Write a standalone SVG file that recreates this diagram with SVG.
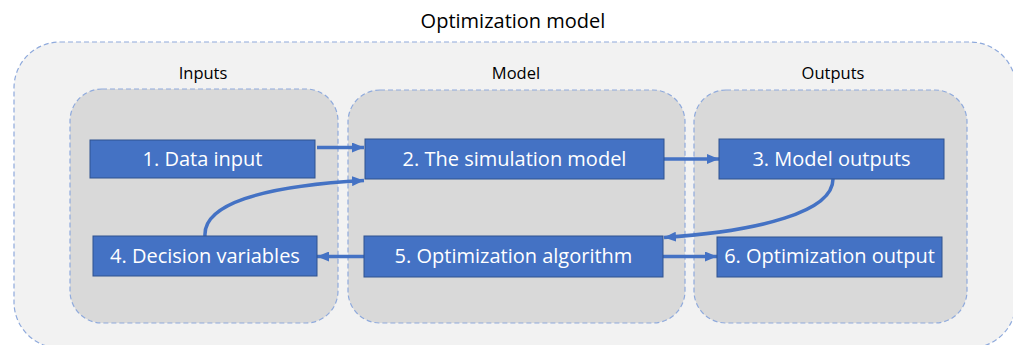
<svg xmlns="http://www.w3.org/2000/svg" width="1013" height="345" viewBox="0 0 1013 345">
  <defs>
    <marker id="arrow" viewBox="0 0 12 10" refX="12" refY="5" markerWidth="12" markerHeight="10" markerUnits="userSpaceOnUse" orient="auto">
      <path d="M0,0 L12,5 L0,10 Z" fill="#4472C4"/>
    </marker>
    <style>
      .outer { fill: #F2F2F2; stroke: #8FAADC; stroke-width: 1.2; stroke-dasharray: 5 3; }
      .panel { fill: #D9D9D9; stroke: #8FAADC; stroke-width: 1.2; stroke-dasharray: 5 3; }
      .box { fill: #4472C4; stroke: #2F528F; stroke-width: 1; }
      .box-text { font-family: "Open Sans", "Liberation Sans", sans-serif; font-size: 20px; fill: #FFFFFF; text-anchor: middle; }
      .title { font-family: "Open Sans", "Liberation Sans", sans-serif; font-size: 20px; fill: #000000; text-anchor: middle; }
      .label { font-family: "Open Sans", "Liberation Sans", sans-serif; font-size: 16.5px; fill: #000000; text-anchor: middle; }
      .conn { fill: none; stroke: #4472C4; stroke-width: 3.5; marker-end: url(#arrow); }
    </style>
  </defs>

  <rect width="1013" height="345" fill="#FFFFFF"/>

  <!-- outer container -->
  <g id="optimization-model">
    <rect class="outer" x="14" y="42" width="1002" height="306" rx="46" ry="46"/>
    <text class="title" x="513" y="28">Optimization model</text>
  </g>

  <!-- section panels -->
  <g id="inputs">
    <rect class="panel" x="70" y="89" width="268" height="234" rx="32" ry="32"/>
    <text class="label" x="203" y="79">Inputs</text>
  </g>
  <g id="model">
    <rect class="panel" x="348" y="90" width="337" height="233" rx="32" ry="32"/>
    <text class="label" x="516" y="79">Model</text>
  </g>
  <g id="outputs">
    <rect class="panel" x="694" y="90" width="273" height="233" rx="32" ry="32"/>
    <text class="label" x="833" y="79">Outputs</text>
  </g>

  <!-- connectors -->
  <g id="connectors">
    <path class="conn" d="M317,147.5 L364,147.5"/>
    <path class="conn" d="M205,236 C203,205 260,186 364,180.5"/>
    <path class="conn" d="M664,159 L719,159"/>
    <path class="conn" d="M833,179 C833,212 760,231 664,237.5"/>
    <path class="conn" d="M364,256.5 L317,256.5"/>
    <path class="conn" d="M663,256.5 L717,256.5"/>
  </g>

  <!-- process nodes -->
  <g id="node1">
    <rect class="box" x="90" y="140" width="225" height="38"/>
    <text class="box-text" x="202.5" y="166">1. Data input</text>
  </g>
  <g id="node2">
    <rect class="box" x="365" y="139" width="299" height="40"/>
    <text class="box-text" x="514.5" y="166">2. The simulation model</text>
  </g>
  <g id="node3">
    <rect class="box" x="719" y="139" width="225" height="40"/>
    <text class="box-text" x="831.5" y="166">3. Model outputs</text>
  </g>
  <g id="node4">
    <rect class="box" x="93" y="236" width="224" height="40"/>
    <text class="box-text" x="205" y="263">4. Decision variables</text>
  </g>
  <g id="node5">
    <rect class="box" x="364" y="236" width="299" height="41"/>
    <text class="box-text" x="513.5" y="263">5. Optimization algorithm</text>
  </g>
  <g id="node6">
    <rect class="box" x="717" y="237" width="225" height="40"/>
    <text class="box-text" x="829.5" y="263">6. Optimization output</text>
  </g>
</svg>
